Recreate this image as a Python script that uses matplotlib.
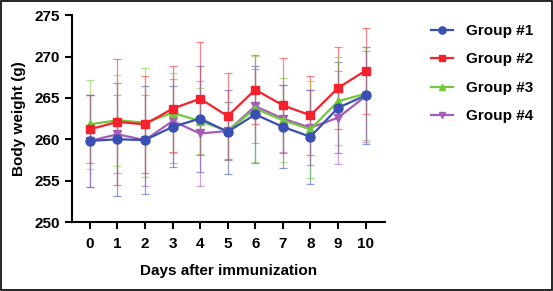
import numpy as np
import matplotlib
matplotlib.use("Agg")
import matplotlib.pyplot as plt
from matplotlib.patches import Rectangle

plt.rcParams['font.family'] = ['Liberation Sans', 'DejaVu Sans']

days = list(range(11))
groups = ["Group #1", "Group #2", "Group #3", "Group #4"]

# mean body weight (g)
g1 = [259.8, 260.0, 259.9, 261.5, 262.5, 260.9, 263.0, 261.5, 260.3, 263.8, 265.3]
g2 = [261.2, 262.1, 261.8, 263.7, 264.9, 262.8, 266.0, 264.1, 262.9, 266.2, 268.3]
g3 = [261.8, 262.3, 262.0, 263.2, 262.2, 261.0, 263.7, 262.3, 261.2, 264.6, 265.5]
g4 = [259.8, 260.6, 259.9, 262.2, 260.7, 261.0, 264.0, 262.5, 261.4, 262.6, 265.2]

# SD
sd1 = [5.6, 6.8, 6.5, 4.9, 6.4, 5.1, 5.9, 5.0, 5.7, 5.5, 5.9]
sd2 = [4.1, 7.6, 5.9, 5.2, 6.8, 5.2, 4.2, 5.7, 4.8, 4.9, 5.2]
sd3 = [5.4, 5.5, 6.6, 4.8, 4.0, 3.5, 6.4, 5.1, 5.9, 5.3, 5.6]
sd4 = [5.6, 4.7, 5.5, 5.1, 6.3, 3.5, 4.5, 4.0, 4.5, 5.6, 5.5]

colors = ["#3a4fb3", "#f5222d", "#72c83a", "#a55db8"]
markers = ["o", "s", "^", "v"]
sizes = [6.5, 6, 6, 6]
means = [g1, g2, g3, g4]
sds = [sd1, sd2, sd3, sd4]

fig = plt.figure(figsize=(5.53, 2.91), dpi=100)
ax = fig.add_axes([0.130, 0.237, 0.566, 0.711])

# error bars first, thin and faded
for m, s, c in zip(means, sds, colors):
    ax.errorbar(days, m, yerr=s, fmt="none", ecolor=c, elinewidth=0.9,
                capsize=3, capthick=0.9, alpha=0.55, zorder=1)

lines = {}
for i in [3, 2, 1, 0]:
    h, = ax.plot(days, means[i], color=colors[i], marker=markers[i],
                 markersize=sizes[i], linewidth=1.6, zorder=7 - i,
                 label=groups[i])
    lines[groups[i]] = h

ax.set_xlim(-0.65, 10.7)
ax.set_ylim(250, 275)
ax.set_xticks(days)
ax.set_yticks([250, 255, 260, 265, 270, 275])
for sp in ["top", "right"]:
    ax.spines[sp].set_visible(False)
for sp in ["left", "bottom"]:
    ax.spines[sp].set_linewidth(1.5)
ax.tick_params(width=1.5, length=5, labelsize=11, direction="out")
ax.tick_params(axis="x", pad=6)
for lab in ax.get_xticklabels() + ax.get_yticklabels():
    lab.set_fontweight("bold")

ax.set_xlabel("Days after immunization", fontsize=11, fontweight="bold", labelpad=9)
ax.set_ylabel("Body weight (g)", fontsize=11, fontweight="bold", labelpad=6)

leg = fig.legend([lines[g] for g in groups], groups, loc="upper left",
                 bbox_to_anchor=(0.755, 0.965), frameon=False,
                 prop={"size": 11, "weight": "bold"}, labelspacing=0.95,
                 handlelength=1.4, handletextpad=0.9, markerscale=0.8)

fig.patches.append(Rectangle((0.001, 0.002), 0.997, 0.995, transform=fig.transFigure,
                             fill=False, edgecolor="black", linewidth=1.2))

fig.savefig("out.png", dpi=100)
